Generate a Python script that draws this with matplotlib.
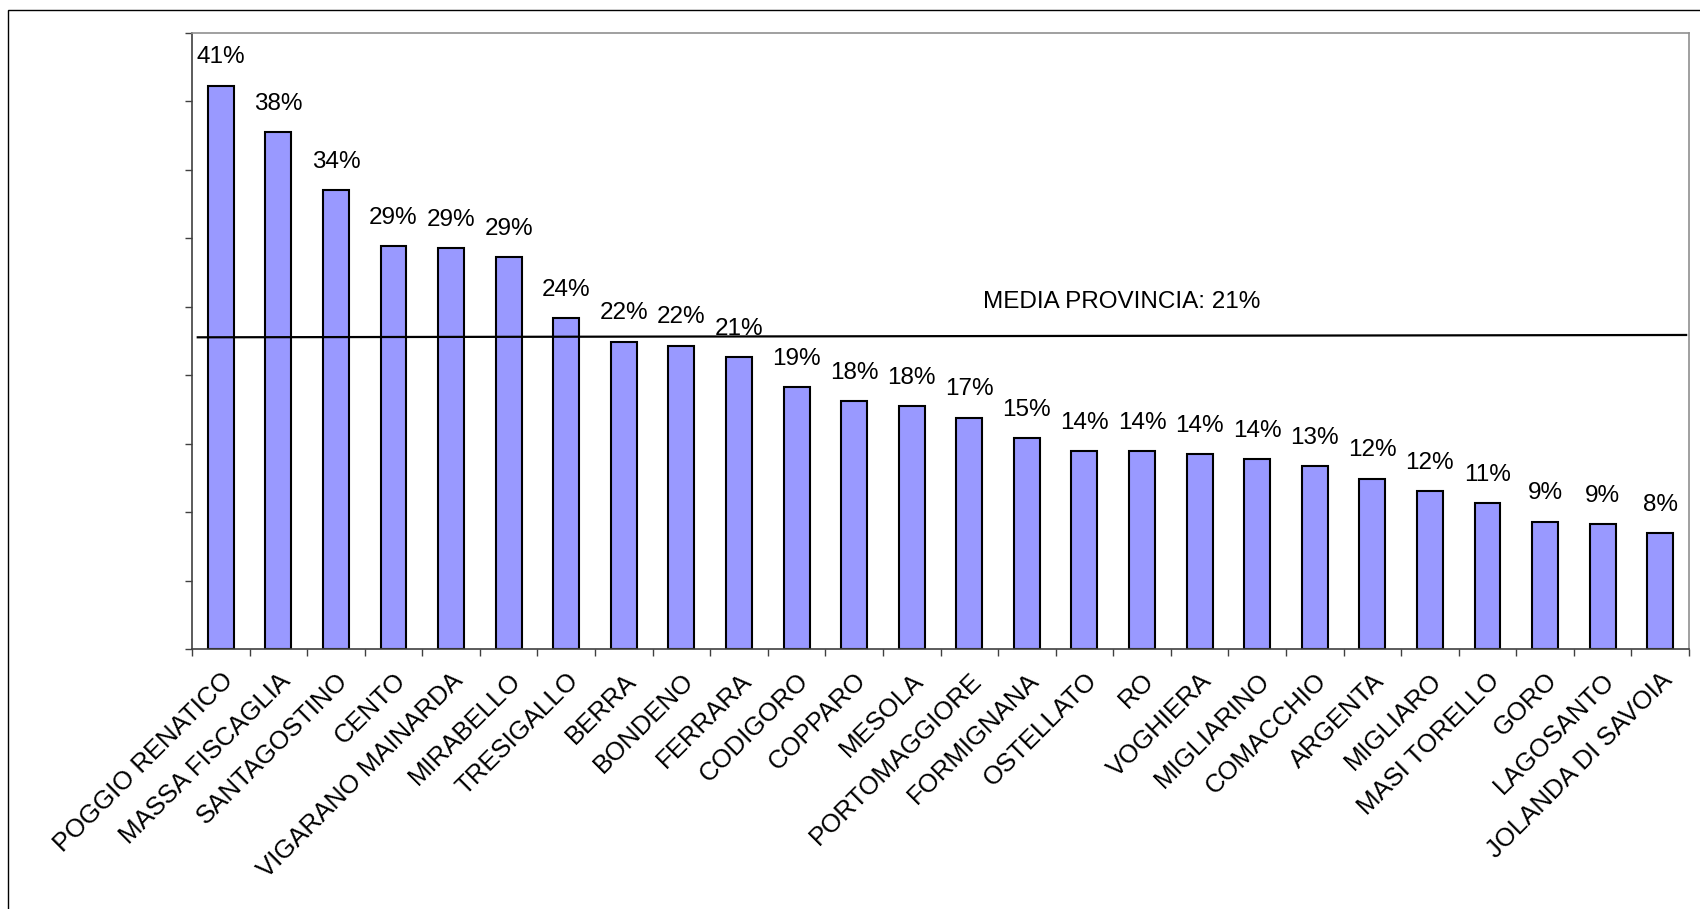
import matplotlib
matplotlib.use("Agg")
import matplotlib.pyplot as plt
from matplotlib.patches import Rectangle
from matplotlib.transforms import ScaledTranslation
import numpy as np

plt.rcParams['font.family'] = ['Liberation Sans', 'DejaVu Sans']

comuni = ['POGGIO RENATICO', 'MASSA FISCAGLIA', 'SANTAGOSTINO', 'CENTO',
          'VIGARANO MAINARDA', 'MIRABELLO', 'TRESIGALLO', 'BERRA', 'BONDENO',
          'FERRARA', 'CODIGORO', 'COPPARO', 'MESOLA', 'PORTOMAGGIORE',
          'FORMIGNANA', 'OSTELLATO', 'RO', 'VOGHIERA', 'MIGLIARINO',
          'COMACCHIO', 'ARGENTA', 'MIGLIARO', 'MASI TORELLO', 'GORO',
          'LAGOSANTO', 'JOLANDA DI SAVOIA']
valori = [41.15, 37.74, 33.53, 29.44, 29.27, 28.6, 24.2, 22.45, 22.16,
          21.3, 19.12, 18.09, 17.75, 16.9, 15.39, 14.45, 14.45, 14.22,
          13.86, 13.37, 12.45, 11.55, 10.66, 9.3, 9.13, 8.45]

media_provincia = 21
# la linea della media come appare nel grafico (leggermente inclinata)
media_linea_x = [-0.4, 25.45]
media_linea_y = [22.77, 22.94]

y_ticks = np.arange(0, 46, 5)

fig = plt.figure(figsize=(17, 9.09), dpi=100)
ax = fig.add_axes([192 / 1700, 1 - 649 / 909, (1689 - 192) / 1700, (649 - 33) / 909])

x = np.arange(len(comuni))
ax.bar(x, valori, width=0.45, color='#9999FF', edgecolor='black', linewidth=1.5, zorder=2)

for xi, v in zip(x, valori):
    ax.annotate(f"{v:.0f}%", (xi, v), xytext=(0, 16), textcoords='offset points',
                ha='center', va='baseline', fontsize=17.5)

ax.plot(media_linea_x, media_linea_y, color='black', linewidth=1.6, zorder=3)
ax.text(15.64, 24.9, f"MEDIA PROVINCIA: {media_provincia}%", ha='center',
        va='baseline', fontsize=17.5)

ax.set_xlim(-0.5, len(comuni) - 0.5)
ax.set_ylim(0, 45)
ax.set_xticks(x)
ax.set_xticklabels(comuni, rotation=45, ha='right', rotation_mode='anchor', fontsize=18.5)
# spostamento leggero a sinistra delle etichette
shift = ScaledTranslation(-5 / 72, 0, fig.dpi_scale_trans)
for lab in ax.get_xticklabels():
    lab.set_transform(lab.get_transform() + shift)
ax.set_xticks(np.arange(-0.5, len(comuni)), minor=True)
ax.tick_params(axis='x', which='major', length=0, pad=14)
ax.tick_params(axis='x', which='minor', length=5, width=1, direction='out', color='#404040')
ax.set_yticks(y_ticks)
ax.set_yticklabels([])
ax.tick_params(axis='y', length=5, width=1, direction='out', color='#404040')

for s in ['left', 'bottom']:
    ax.spines[s].set_color('#404040')
    ax.spines[s].set_linewidth(1.2)
for s in ['top', 'right']:
    ax.spines[s].set_color('#909090')
    ax.spines[s].set_linewidth(1.2)

# cornice esterna
fig.patches.append(Rectangle((8 / 1700, -0.1), 1.2, 1.1 - 10 / 909, transform=fig.transFigure,
                             fill=False, edgecolor='black', linewidth=1.0))

fig.savefig('out.png', dpi=100)
